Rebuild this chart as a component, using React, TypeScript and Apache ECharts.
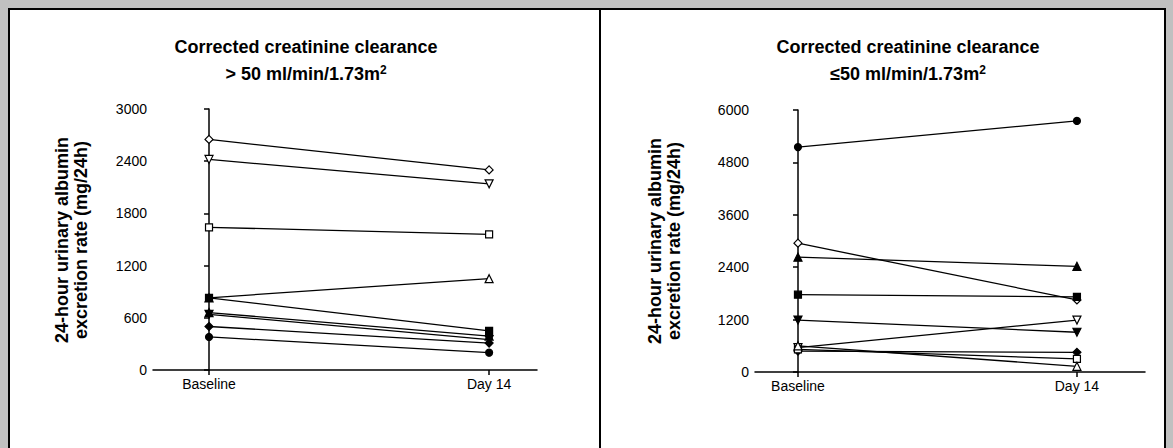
import React, { useEffect, useRef } from "react";
import * as echarts from "echarts";

// ---------- data ----------
const xCategories = ["Baseline", "Day 14"];

// Left panel: corrected creatinine clearance > 50
const leftYTicks = [0, 600, 1200, 1800, 2400, 3000];
const leftOpenDiamond = [2650, 2300];
const leftOpenInvTriangle = [2420, 2140];
const leftOpenSquare = [1640, 1560];
const leftOpenTriangle = [830, 1050];
const leftFilledSquare = [830, 450];
const leftFilledTriangle = [660, 390];
const leftFilledInvTriangle = [640, 350];
const leftFilledDiamond = [500, 310];
const leftFilledCircle = [380, 200];

// Right panel: corrected creatinine clearance <= 50
const rightYTicks = [0, 1200, 2400, 3600, 4800, 6000];
const rightFilledCircle = [5150, 5750];
const rightOpenDiamond = [2950, 1650];
const rightFilledTriangle = [2630, 2420];
const rightFilledSquare = [1770, 1720];
const rightFilledInvTriangle = [1190, 910];
const rightOpenInvTriangle = [560, 1190];
const rightFilledDiamond = [480, 450];
const rightOpenSquare = [520, 300];
const rightOpenTriangle = [600, 130];

const FONT = "Liberation Sans, Arial, Helvetica, sans-serif";

type Sym = { symbol: string; rotate: number; filled: boolean; size: number };
const S = {
  circle: { symbol: "circle", rotate: 0, filled: true, size: 7 },
  square: { symbol: "rect", rotate: 0, filled: true, size: 7 },
  tri: { symbol: "triangle", rotate: 0, filled: true, size: 8 },
  invTri: { symbol: "triangle", rotate: 180, filled: true, size: 8 },
  diamond: { symbol: "diamond", rotate: 0, filled: true, size: 8 },
};
const open = (s: Sym): Sym => ({ ...s, filled: false });

function mkSeries(vals: number[], sym: Sym, idx: number) {
  return {
    type: "line",
    xAxisIndex: idx,
    yAxisIndex: idx,
    data: vals.map((v, i) => [i, v]),
    symbol: sym.symbol,
    symbolRotate: sym.rotate,
    symbolSize: sym.size,
    showSymbol: true,
    lineStyle: { color: "#000", width: 1.3 },
    itemStyle: {
      color: sym.filled ? "#000" : "#fff",
      borderColor: "#000",
      borderWidth: 1.2,
    },
    emphasis: { disabled: true },
    silent: true,
  };
}

function xAxisFor(idx: number, min: number, max: number) {
  return {
    type: "value",
    gridIndex: idx,
    min,
    max,
    axisLine: { show: true, onZero: false, lineStyle: { color: "#000", width: 1.5 } },
    axisTick: {
      show: true,
      customValues: [0, 1],
      length: 5,
      lineStyle: { color: "#000", width: 1.5 },
    },
    axisLabel: {
      show: true,
      customValues: [0, 1],
      formatter: (v: number) => xCategories[Math.round(v)] ?? "",
      color: "#000",
      fontFamily: FONT,
      fontSize: 14,
      margin: 7,
    },
    splitLine: { show: false },
  };
}

function yAxisFor(idx: number, ticks: number[]) {
  return {
    type: "value",
    gridIndex: idx,
    min: ticks[0],
    max: ticks[ticks.length - 1],
    interval: ticks[1] - ticks[0],
    axisLine: { show: true, lineStyle: { color: "#000", width: 1.5 } },
    axisTick: { show: true, length: 5, lineStyle: { color: "#000", width: 1.5 } },
    axisLabel: {
      color: "#000",
      fontFamily: FONT,
      fontSize: 14,
      margin: 6,
      formatter: (v: number) => String(v),
    },
    splitLine: { show: false },
  };
}

const titleRich = {
  sup: { fontSize: 12, fontWeight: "bold", fontFamily: FONT, fill: "#000", verticalAlign: "top", padding: [0, 0, 9, 0] },
  base: { fontSize: 18, fontWeight: "bold", fontFamily: FONT, fill: "#000" },
};

function titleTexts(cx: number, line2: string) {
  return [
    {
      type: "text",
      x: cx,
      y: 47,
      style: {
        text: "Corrected creatinine clearance",
        font: `bold 18px ${FONT}`,
        fill: "#000",
        align: "center",
        verticalAlign: "middle",
      },
    },
    {
      type: "text",
      x: cx,
      y: 74,
      style: {
        text: `{base|${line2}}{sup|2}`,
        rich: titleRich,
        align: "center",
        verticalAlign: "middle",
      },
    },
  ];
}

function yName(x: number, y: number) {
  return {
    type: "text",
    x,
    y,
    rotation: Math.PI / 2,
    style: {
      text: "24-hour urinary albumin\nexcretion rate (mg/24h)",
      font: `bold 18px ${FONT}`,
      fill: "#000",
      align: "center",
      verticalAlign: "middle",
      lineHeight: 19,
    },
  };
}

export default function App() {
  const ref = useRef<HTMLDivElement>(null);
  useEffect(() => {
    if (!ref.current) return;
    const chart = echarts.init(ref.current, undefined, { renderer: "svg" });
    const option = {
      animation: false,
      backgroundColor: "transparent",
      grid: [
        { left: 153, top: 109, width: 384, height: 261 },
        { left: 755, top: 110, width: 390, height: 262 },
      ],
      xAxis: [xAxisFor(0, -0.2, 1.171), xAxisFor(1, -0.154, 1.244)],
      yAxis: [yAxisFor(0, leftYTicks), yAxisFor(1, rightYTicks)],
      series: [
        mkSeries(leftOpenDiamond, open(S.diamond), 0),
        mkSeries(leftOpenInvTriangle, open(S.invTri), 0),
        mkSeries(leftOpenSquare, open(S.square), 0),
        mkSeries(leftOpenTriangle, open(S.tri), 0),
        mkSeries(leftFilledSquare, S.square, 0),
        mkSeries(leftFilledTriangle, S.tri, 0),
        mkSeries(leftFilledInvTriangle, S.invTri, 0),
        mkSeries(leftFilledDiamond, S.diamond, 0),
        mkSeries(leftFilledCircle, S.circle, 0),
        mkSeries(rightFilledCircle, S.circle, 1),
        mkSeries(rightOpenDiamond, open(S.diamond), 1),
        mkSeries(rightFilledTriangle, S.tri, 1),
        mkSeries(rightFilledSquare, S.square, 1),
        mkSeries(rightFilledInvTriangle, S.invTri, 1),
        mkSeries(rightOpenInvTriangle, open(S.invTri), 1),
        mkSeries(rightFilledDiamond, S.diamond, 1),
        mkSeries(rightOpenSquare, open(S.square), 1),
        mkSeries(rightOpenTriangle, open(S.tri), 1),
      ],
      graphic: {
        elements: [
          ...titleTexts(306, "> 50 ml/min/1.73m"),
          ...titleTexts(908, "≤50 ml/min/1.73m"),
          yName(71, 240),
          yName(664, 241),
        ],
      },
    };
    chart.setOption(option as any);
    return () => chart.dispose();
  }, []);

  return (
    <div style={{ position: "fixed", left: 0, top: 0, width: 1173, height: 448, background: "#c0c0c0", overflow: "hidden" }}>
      <div
        style={{
          position: "absolute",
          left: 8,
          top: 8,
          width: 1158,
          height: 460,
          border: "2px solid #000",
          boxSizing: "border-box",
          background: "#fff",
        }}
      />
      <div style={{ position: "absolute", left: 599, top: 8, width: 2, height: 440, background: "#000" }} />
      <div ref={ref} style={{ position: "absolute", left: 0, top: 0, width: 1173, height: 448 }} />
    </div>
  );
}
